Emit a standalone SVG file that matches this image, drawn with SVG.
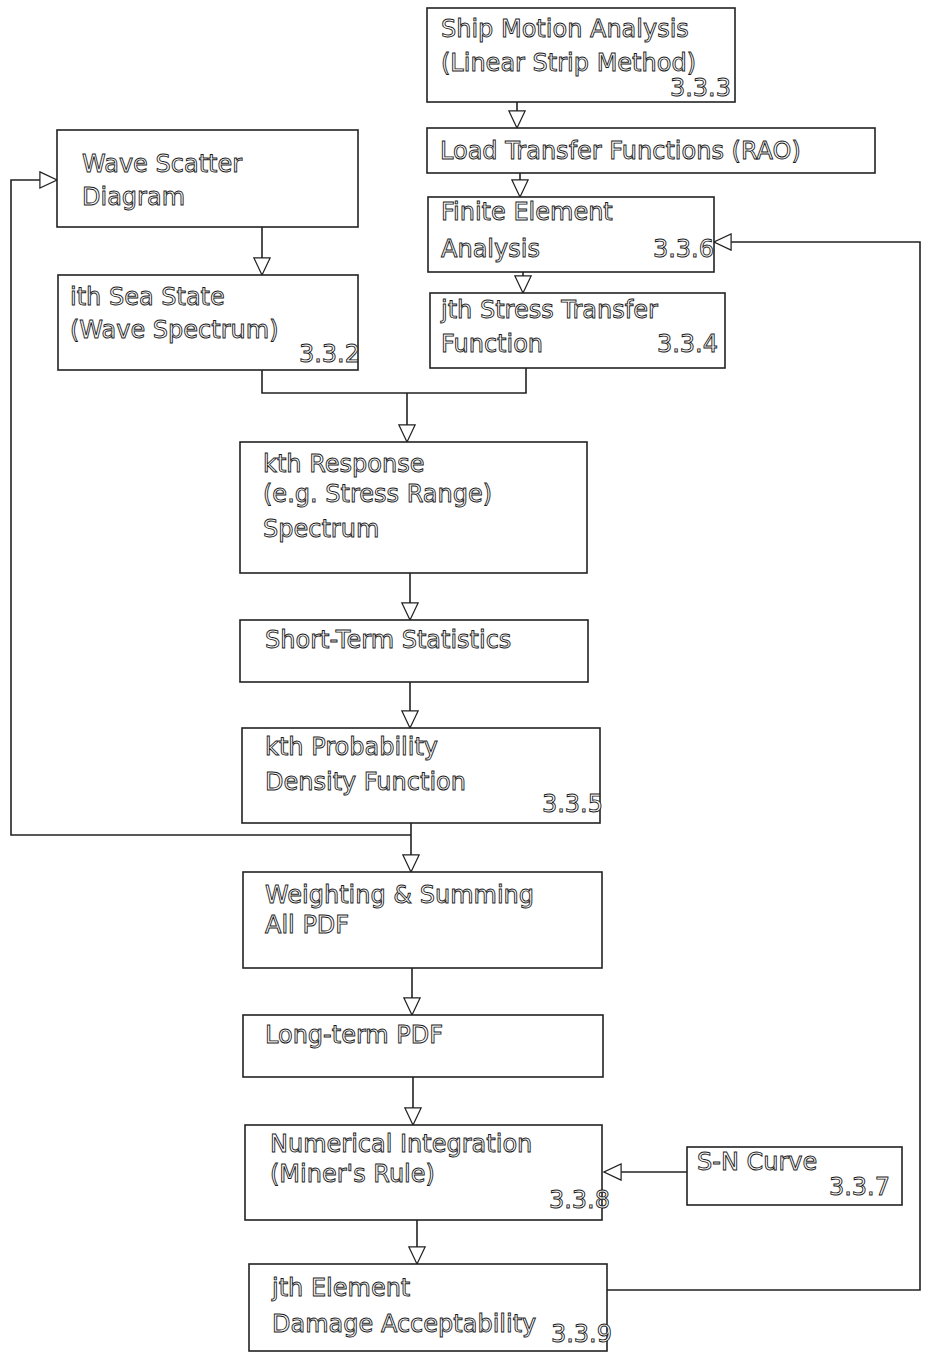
<svg xmlns="http://www.w3.org/2000/svg" width="926" height="1354" viewBox="0 0 926 1354">
<defs>
<marker id="arr" viewBox="0 0 20 20" refX="19" refY="10" markerWidth="19" markerHeight="19" markerUnits="userSpaceOnUse" orient="auto">
<path d="M1,1.5 L19,10 L1,18.5 Z" fill="#fff" stroke="#222" stroke-width="1.3" stroke-linejoin="miter"/>
</marker>
<style>
.box{fill:#fff;stroke:#222;stroke-width:1.6}
.t{font-family:"DejaVu Sans","Liberation Sans",sans-serif;font-size:24px;fill:#fff;stroke:#1a1a1a;stroke-width:0.9}
.r{text-anchor:end}
.c{fill:none;stroke:#222;stroke-width:1.6}
</style>
</defs>
<rect width="926" height="1354" fill="#fff"/>
<g id="connectors">
<path class="c" d="M517,102 V128" marker-end="url(#arr)"/>
<path class="c" d="M520,173 V197" marker-end="url(#arr)"/>
<path class="c" d="M523,272 V293" marker-end="url(#arr)"/>
<path class="c" d="M262,227 V275" marker-end="url(#arr)"/>
<path class="c" d="M262,370 V393 H526 V368"/>
<path class="c" d="M407,393 V442" marker-end="url(#arr)"/>
<path class="c" d="M410,573 V620" marker-end="url(#arr)"/>
<path class="c" d="M410,682 V728" marker-end="url(#arr)"/>
<path class="c" d="M411,823 V872" marker-end="url(#arr)"/>
<path class="c" d="M411,835 H11 V180 H57" marker-end="url(#arr)"/>
<path class="c" d="M412,968 V1015" marker-end="url(#arr)"/>
<path class="c" d="M413,1077 V1125" marker-end="url(#arr)"/>
<path class="c" d="M687,1172 H604" marker-end="url(#arr)"/>
<path class="c" d="M417,1220 V1264" marker-end="url(#arr)"/>
<path class="c" d="M607,1290 H920 V242 H714" marker-end="url(#arr)"/>
</g>
<g id="ship">
<rect class="box" x="427" y="8" width="308" height="94"/>
<text class="t" x="441" y="37">Ship Motion Analysis</text>
<text class="t" x="441" y="71">(Linear Strip Method)</text>
<text class="t r" x="731" y="96">3.3.3</text>
</g>
<g id="load">
<rect class="box" x="427" y="128" width="448" height="45"/>
<text class="t" x="440" y="159">Load Transfer Functions (RAO)</text>
</g>
<g id="fea">
<rect class="box" x="428" y="197" width="286" height="75"/>
<text class="t" x="441" y="220">Finite Element</text>
<text class="t" x="441" y="257">Analysis</text>
<text class="t r" x="714" y="257">3.3.6</text>
</g>
<g id="stress">
<rect class="box" x="430" y="293" width="295" height="75"/>
<text class="t" x="441" y="318">jth Stress Transfer</text>
<text class="t" x="441" y="352">Function</text>
<text class="t r" x="718" y="352">3.3.4</text>
</g>
<g id="wave">
<rect class="box" x="57" y="130" width="301" height="97"/>
<text class="t" x="82" y="172">Wave Scatter</text>
<text class="t" x="82" y="205">Diagram</text>
</g>
<g id="seastate">
<rect class="box" x="58" y="275" width="300" height="95"/>
<text class="t" x="70" y="305">ith Sea State</text>
<text class="t" x="70" y="338">(Wave Spectrum)</text>
<text class="t r" x="360" y="362">3.3.2</text>
</g>
<g id="response">
<rect class="box" x="240" y="442" width="347" height="131"/>
<text class="t" x="263" y="472">kth Response</text>
<text class="t" x="263" y="502">(e.g. Stress Range)</text>
<text class="t" x="263" y="537">Spectrum</text>
</g>
<g id="shortterm">
<rect class="box" x="240" y="620" width="348" height="62"/>
<text class="t" x="265" y="648">Short-Term Statistics</text>
</g>
<g id="pdf">
<rect class="box" x="242" y="728" width="358" height="95"/>
<text class="t" x="265" y="755">kth Probability</text>
<text class="t" x="265" y="790">Density Function</text>
<text class="t r" x="603" y="812">3.3.5</text>
</g>
<g id="weighting">
<rect class="box" x="243" y="872" width="359" height="96"/>
<text class="t" x="265" y="903">Weighting &amp; Summing</text>
<text class="t" x="265" y="933">All PDF</text>
</g>
<g id="longterm">
<rect class="box" x="243" y="1015" width="360" height="62"/>
<text class="t" x="265" y="1043">Long-term PDF</text>
</g>
<g id="numerical">
<rect class="box" x="245" y="1125" width="357" height="95"/>
<text class="t" x="270" y="1152">Numerical Integration</text>
<text class="t" x="270" y="1182">(Miner's Rule)</text>
<text class="t r" x="610" y="1208">3.3.8</text>
</g>
<g id="sncurve">
<rect class="box" x="687" y="1147" width="215" height="58"/>
<text class="t" x="697" y="1170">S-N Curve</text>
<text class="t r" x="890" y="1195">3.3.7</text>
</g>
<g id="damage">
<rect class="box" x="249" y="1264" width="358" height="87"/>
<text class="t" x="272" y="1296">jth Element</text>
<text class="t" x="272" y="1332">Damage Acceptability</text>
<text class="t r" x="612" y="1342">3.3.9</text>
</g>
</svg>
